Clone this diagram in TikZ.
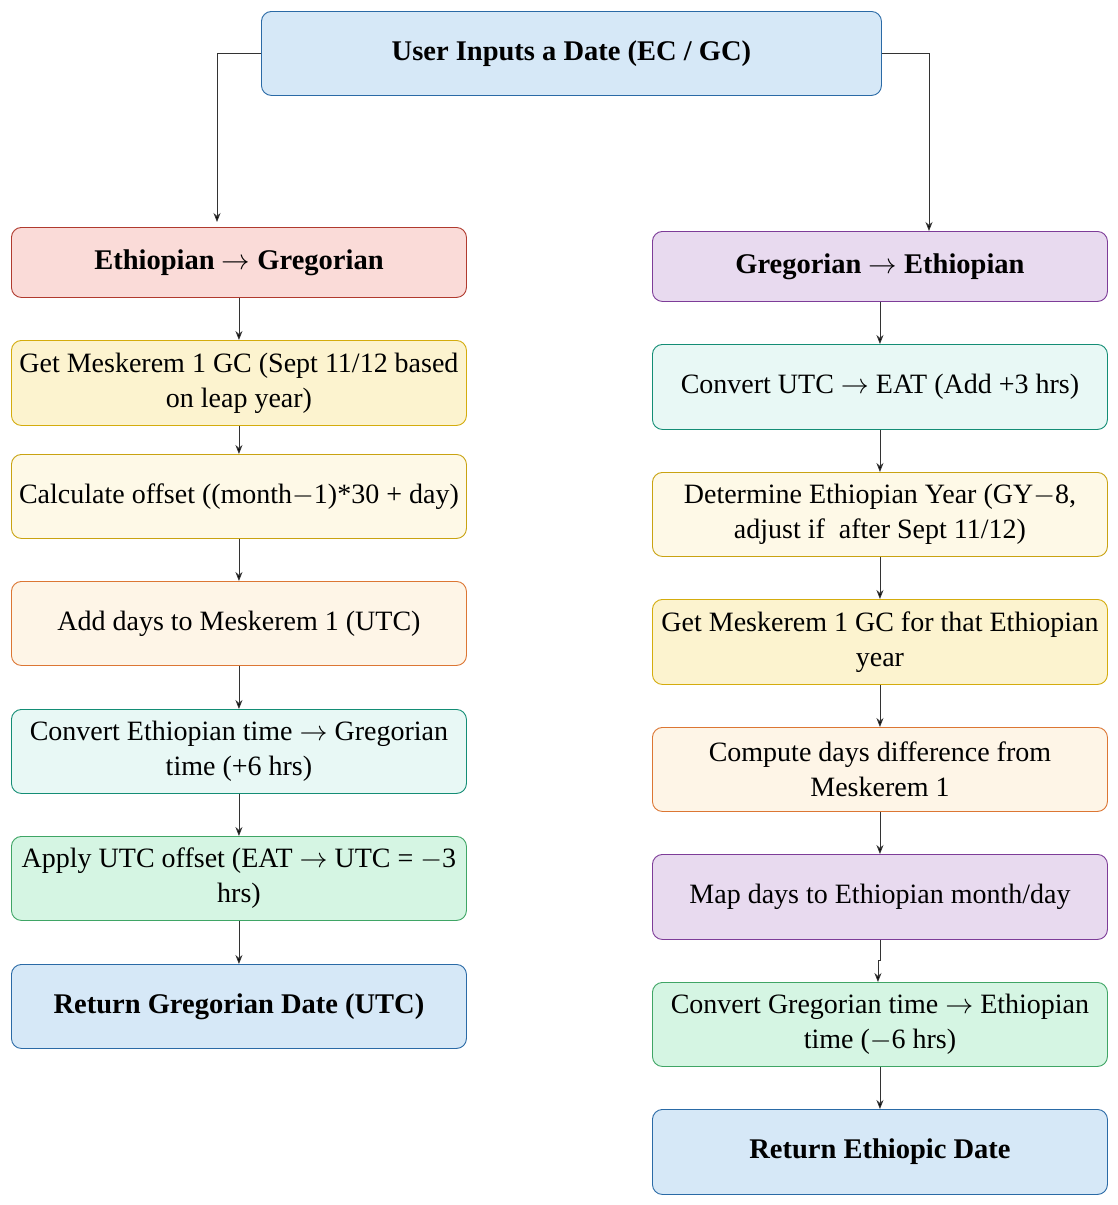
\documentclass[tikz,border=0pt]{standalone}
\usepackage{fix-cm}
\usepackage{fontspec}
\setmainfont{Liberation Serif}
\usetikzlibrary{arrows.meta,calc}
\definecolor{bluef}{HTML}{D6E8F7}\definecolor{blued}{HTML}{2A6AA6}
\definecolor{redf}{HTML}{FADBD8}\definecolor{redd}{HTML}{B03A2E}
\definecolor{yelf}{HTML}{FCF3CF}\definecolor{yeld}{HTML}{D4AC0D}
\definecolor{lyelf}{HTML}{FEF9E7}\definecolor{lyeld}{HTML}{C9A312}
\definecolor{oraf}{HTML}{FEF5E7}\definecolor{orad}{HTML}{DC7633}
\definecolor{mintf}{HTML}{E8F8F5}\definecolor{mintd}{HTML}{138D75}
\definecolor{grnf}{HTML}{D5F5E3}\definecolor{grnd}{HTML}{3FA565}
\definecolor{purf}{HTML}{E8DAEF}\definecolor{purd}{HTML}{7D3C98}
\definecolor{linec}{HTML}{333333}
\newcommand{\rarr}{$\rightarrow$}
\newcommand{\mns}{$-$}
\tikzset{
  box/.style={draw, line width=0.9pt, rounded corners=10pt, anchor=north west,
    minimum width=455pt, minimum height=85pt, align=center, inner sep=2pt,
    font=\fontsize{28}{35}\selectfont, text=black},
  boldtxt/.style={font=\fontsize{28.5}{35}\selectfont\bfseries},
  hbox/.style={box, minimum height=70pt, boldtxt},
  bluebox/.style={fill=bluef, draw=blued},
  redbox/.style={fill=redf, draw=redd},
  yelbox/.style={fill=yelf, draw=yeld},
  lyelbox/.style={fill=lyelf, draw=lyeld},
  orabox/.style={fill=oraf, draw=orad},
  mintbox/.style={fill=mintf, draw=mintd},
  grnbox/.style={fill=grnf, draw=grnd},
  purbox/.style={fill=purf, draw=purd},
  arr/.style={draw=linec, line width=0.9pt, -{Stealth[length=9pt,width=7pt,fill=black]}}
}
\begin{document}
\begin{tikzpicture}[x=1pt,y=-1pt]
\useasboundingbox[fill=white] (0,0) rectangle (1118,1205);
% top
\node[box, bluebox, minimum width=620pt, minimum height=84pt, boldtxt] (top) at (261,11) {User Inputs a Date (EC / GC)};
% left column
\node[hbox, redbox] (eg) at (11,227) {Ethiopian \rarr{} Gregorian};
\node[box, yelbox] (l1) at (11,340) {Get Meskerem 1 GC (Sept 11/12 based\\on leap year)};
\node[box, lyelbox, minimum height=84pt] (l2) at (11,454) {Calculate offset ((month\mns{}1)*30 + day)};
\node[box, orabox, minimum height=84pt] (l3) at (11,581) {Add days to Meskerem 1 (UTC)};
\node[box, mintbox, minimum height=84pt] (l4) at (11,709) {Convert Ethiopian time \rarr{} Gregorian\\time (+6 hrs)};
\node[box, grnbox, minimum height=84pt] (l5) at (11,836) {Apply UTC offset (EAT \rarr{} UTC = \mns{}3\\hrs)};
\node[box, bluebox, minimum height=84pt, boldtxt] (l6) at (11,964) {Return Gregorian Date (UTC)};
% right column
\node[hbox, purbox] (ge) at (652,231) {Gregorian \rarr{} Ethiopian};
\node[box, mintbox] (r1) at (652,344) {Convert UTC \rarr{} EAT (Add +3 hrs)};
\node[box, lyelbox, minimum height=84pt] (r2) at (652,472) {Determine Ethiopian Year (GY\mns{}8,\\adjust if \ after Sept 11/12)};
\node[box, yelbox] (r3) at (652,599) {Get Meskerem 1 GC for that Ethiopian\\year};
\node[box, orabox, minimum height=84pt] (r4) at (652,727) {Compute days difference from\\Meskerem 1};
\node[box, purbox] (r5) at (652,854) {Map days to Ethiopian month/day};
\node[box, grnbox, minimum height=84pt] (r6) at (652,982) {Convert Gregorian time \rarr{} Ethiopian\\time (\mns{}6 hrs)};
\node[box, bluebox, boldtxt] (r7) at (652,1109) {Return Ethiopic Date};
% connectors
\draw[arr, shorten >=5pt] (top.west) -| ([xshift=206pt]eg.north west);
\draw[arr] (top.east) -| ([xshift=277pt]ge.north west);
\foreach \a/\b in {eg/l1,l1/l2,l2/l3,l3/l4,l4/l5,l5/l6,ge/r1,r1/r2,r2/r3,r3/r4,r4/r5,r6/r7}
  \draw[arr] (\a.south) -- (\b.north);
\draw[arr] (r5.south) -- ++(0,21) -| ([xshift=-2pt]r6.north);
\end{tikzpicture}
\end{document}
